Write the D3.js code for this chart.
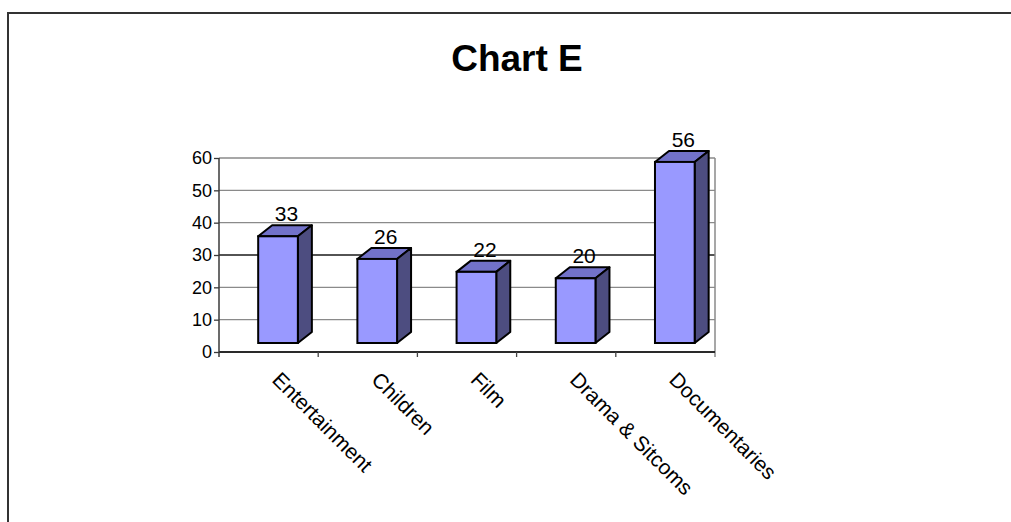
<!DOCTYPE html>
<html>
<head>
<meta charset="utf-8">
<script src="https://cdn.jsdelivr.net/npm/d3@7"></script>
<style>
  html, body { margin: 0; padding: 0; background: #fff; }
  svg { display: block; font-family: "Liberation Sans", Arial, sans-serif; }
</style>
</head>
<body>
<svg id="chart" width="1011" height="522"></svg>
<script>
// Viewer counts by programme genre
const categories = ["Entertainment", "Children", "Film", "Drama & Sitcoms", "Documentaries"];
const values = [33, 26, 22, 20, 56];
const yTicks = [0, 10, 20, 30, 40, 50, 60];
const chartTitle = "Chart E";

(function () {
  const svg = d3.select("#chart");
  const W = 1011, H = 522;

  // outer chart frame (runs past the right and bottom edges)
  svg.append("rect")
    .attr("x", 8).attr("y", 13)
    .attr("width", W + 40).attr("height", H + 40)
    .attr("fill", "#fff").attr("stroke", "#333").attr("stroke-width", 2);

  // plot region
  const pLeft = 219, pRight = 715, pTop = 158, pBottom = 352;

  const x = d3.scaleBand().domain(categories).range([pLeft, pRight]).padding(0);
  const y = d3.scaleLinear().domain([0, 60]).range([pBottom, pTop]);
  const bw = x.bandwidth();

  // 3-D extrusion of the columns
  const depthX = 14, depthY = -11;
  const floorShift = 9;

  // title
  svg.append("text")
    .attr("x", 517).attr("y", 71)
    .attr("text-anchor", "middle")
    .attr("font-size", 37).attr("font-weight", "bold")
    .attr("fill", "#000")
    .text(chartTitle);

  // horizontal gridlines on the back wall
  svg.append("g").selectAll("line")
    .data(yTicks.filter(t => t > 0))
    .join("line")
    .attr("x1", pLeft).attr("x2", pRight)
    .attr("y1", d => y(d)).attr("y2", d => y(d))
    .attr("stroke", d => d === 30 ? "#1a1a1a" : "#8a8a8a")
    .attr("stroke-width", 1.3);

  // right edge of the wall
  svg.append("line")
    .attr("x1", pRight).attr("x2", pRight)
    .attr("y1", pTop).attr("y2", pBottom + 5)
    .attr("stroke", "#8a8a8a").attr("stroke-width", 1.5);

  // category axis line and boundary ticks
  svg.append("line")
    .attr("x1", pLeft).attr("x2", pRight)
    .attr("y1", pBottom).attr("y2", pBottom)
    .attr("stroke", "#2a2a2a").attr("stroke-width", 2);

  svg.append("g").selectAll("line")
    .data(categories.slice(0, -1))
    .join("line")
    .attr("x1", d => x(d) + bw).attr("x2", d => x(d) + bw)
    .attr("y1", pBottom).attr("y2", pBottom + 5)
    .attr("stroke", "#444").attr("stroke-width", 1.3);

  // value axis
  const yAxis = d3.axisLeft(y).tickValues(yTicks).tickSize(5).tickPadding(2);
  const gy = svg.append("g")
    .attr("transform", `translate(${pLeft},0)`)
    .call(yAxis);
  gy.select(".domain")
    .attr("d", `M0,${pTop}V${pBottom + 5}`)
    .attr("stroke", "#3a3a3a").attr("stroke-width", 1.5);
  gy.selectAll(".tick line").attr("stroke", "#3a3a3a").attr("stroke-width", 1.3);
  gy.selectAll(".tick text")
    .attr("font-size", 18)
    .attr("font-family", "Liberation Sans, Arial, sans-serif")
    .attr("fill", "#000");

  // columns
  const bars = svg.append("g").selectAll("g")
    .data(categories.map((c, i) => ({ c, v: values[i] })))
    .join("g");

  const fx0 = d => x(d.c) + bw * 0.395;
  const fx1 = d => x(d.c) + bw * 0.795;
  const fyT = d => y(d.v) - floorShift;
  const fyB = () => y(0) - floorShift;

  // top face
  bars.append("path")
    .attr("d", d => `M${fx0(d)},${fyT(d)}L${fx0(d) + depthX},${fyT(d) + depthY}L${fx1(d) + depthX},${fyT(d) + depthY}L${fx1(d)},${fyT(d)}Z`)
    .attr("fill", "#7272C9").attr("stroke", "#000").attr("stroke-width", 2)
    .attr("stroke-linejoin", "round");

  // side face
  bars.append("path")
    .attr("d", d => `M${fx1(d)},${fyT(d)}L${fx1(d) + depthX},${fyT(d) + depthY}L${fx1(d) + depthX},${fyB() + depthY}L${fx1(d)},${fyB()}Z`)
    .attr("fill", "#4D4D80").attr("stroke", "#000").attr("stroke-width", 2)
    .attr("stroke-linejoin", "round");

  // front face
  bars.append("rect")
    .attr("x", fx0)
    .attr("y", fyT)
    .attr("width", d => fx1(d) - fx0(d))
    .attr("height", d => fyB() - fyT(d))
    .attr("fill", "#9999FF").attr("stroke", "#000").attr("stroke-width", 2);

  // value labels
  bars.append("text")
    .attr("x", d => (fx0(d) + fx1(d)) / 2 + 8.5)
    .attr("y", d => fyT(d) - 15)
    .attr("text-anchor", "middle")
    .attr("font-size", 21)
    .attr("fill", "#000")
    .text(d => d.v);

  // rotated category labels
  svg.append("g").selectAll("text")
    .data(categories)
    .join("text")
    .attr("transform", d => `translate(${x(d) + bw / 2 + 2.5},381) rotate(45)`)
    .attr("text-anchor", "start")
    .attr("font-size", 21)
    .attr("fill", "#000")
    .text(d => d);
})();
</script>
</body>
</html>
